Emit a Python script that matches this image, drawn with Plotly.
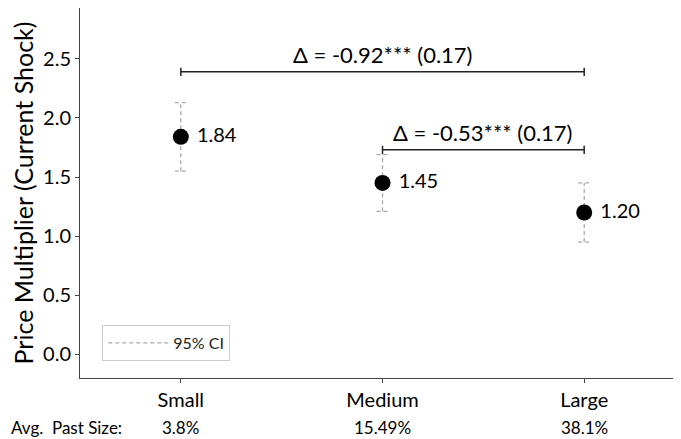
import plotly.graph_objects as go

categories = ["Small", "Medium", "Large"]
estimates = [1.84, 1.45, 1.20]
ci_low = [1.55, 1.21, 0.95]
ci_high = [2.13, 1.69, 1.45]
past_size = ["3.8%", "15.49%", "38.1%"]
bracket_from = [0, 1]
bracket_to = [2, 2]
bracket_y = [2.39, 1.73]
bracket_text = ["Δ = -0.92*** (0.17)", "Δ = -0.53*** (0.17)"]

FONT = "Lato"
xs = list(range(len(categories)))

fig = go.Figure()

# CI vertical dashed lines
cx, cy = [], []
for x, lo, hi in zip(xs, ci_low, ci_high):
    cx += [x, x, None]
    cy += [lo, hi, None]
fig.add_trace(go.Scatter(x=cx, y=cy, mode="lines",
                         line=dict(color="#aaaaaa", width=1.3, dash="4px,3px"),
                         name="95% CI", showlegend=True, hoverinfo="skip"))
# CI caps
capw = 0.03
kx, ky = [], []
for x, lo, hi in zip(xs, ci_low, ci_high):
    for v in (lo, hi):
        kx += [x - capw, x + capw, None]
        ky += [v, v, None]
fig.add_trace(go.Scatter(x=kx, y=ky, mode="lines",
                         line=dict(color="#aaaaaa", width=1.3, dash="4px,3px"),
                         showlegend=False, hoverinfo="skip"))

# Points
fig.add_trace(go.Scatter(x=xs, y=estimates, mode="markers+text",
                         marker=dict(color="black", size=16),
                         text=[f" {v:.2f}" for v in estimates],
                         textposition="middle right",
                         textfont=dict(family=FONT, size=20, color="black"),
                         showlegend=False, hoverinfo="skip"))

# Brackets
bx, by = [], []
tick = 0.035
for a, b, y in zip(bracket_from, bracket_to, bracket_y):
    bx += [a, b, None, a, a, None, b, b, None]
    by += [y, y, None, y - tick, y + tick, None, y - tick, y + tick, None]
fig.add_trace(go.Scatter(x=bx, y=by, mode="lines",
                         line=dict(color="#222222", width=1.5),
                         showlegend=False, hoverinfo="skip"))
for a, b, y, t in zip(bracket_from, bracket_to, bracket_y, bracket_text):
    fig.add_annotation(x=(a + b) / 2, y=y, text=t, showarrow=False,
                       yanchor="bottom", yshift=2,
                       font=dict(family=FONT, size=22, color="black"))

# Bottom row
fig.add_annotation(x=0, xref="paper", y=0, yref="paper", xanchor="left",
                   xshift=-71, yshift=-49, yanchor="middle",
                   text="Avg.  Past Size:", showarrow=False,
                   font=dict(family=FONT, size=17, color="black"))
for x, s in zip(xs, past_size):
    fig.add_annotation(x=x, y=0, yref="paper", yshift=-49, yanchor="middle",
                       text=s, showarrow=False,
                       font=dict(family=FONT, size=17, color="black"))

# page body has an 8px margin -> compensate
fig.update_layout(
    width=673, height=431,
    margin=dict(l=72, r=0, t=0, b=61),
    plot_bgcolor="white", paper_bgcolor="white",
    font=dict(family=FONT, color="black"),
    legend=dict(x=0.037, y=0.046, xanchor="left", yanchor="bottom",
                bordercolor="#cccccc", borderwidth=1,
                font=dict(family=FONT, size=16, color="#222222"),
                bgcolor="white", itemwidth=60),
)
fig.update_xaxes(range=[-0.5, 2.48], tickvals=xs, ticktext=categories,
                 showgrid=False, zeroline=False, showline=True,
                 linecolor="#444444", linewidth=1, ticks="outside",
                 ticklen=4, tickcolor="#444444",
                 tickfont=dict(family=FONT, size=20, color="black"))
fig.update_yaxes(range=[-0.2, 2.93], tickvals=[0, 0.5, 1.0, 1.5, 2.0, 2.5],
                 ticktext=["0.0", "0.5", "1.0", "1.5", "2.0", "2.5"],
                 showgrid=False, zeroline=False, showline=True,
                 linecolor="#444444", linewidth=1, ticks="outside",
                 ticklen=4, tickcolor="#444444",
                 tickfont=dict(family=FONT, size=20, color="black"),
                 title=dict(text="Price Multiplier (Current Shock)",
                            font=dict(family=FONT, size=25, color="black"),
                            standoff=6))

fig.write_html("out.html")
